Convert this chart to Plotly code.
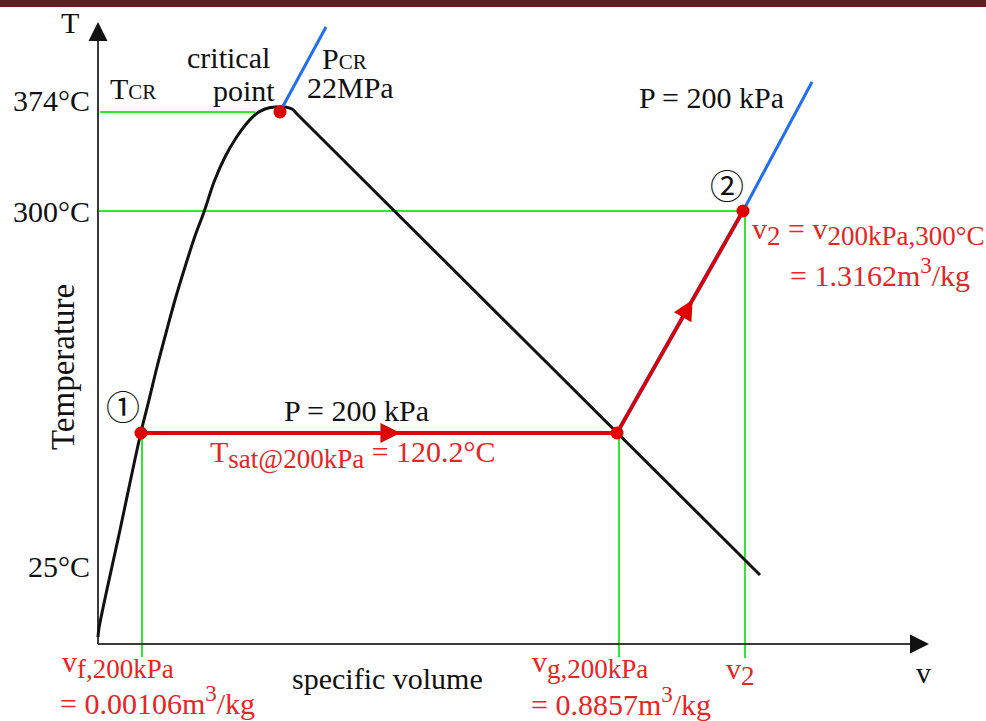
import math
import plotly.graph_objects as go

# ---------------- data (schematic diagram units, v-axis origin = 0,0) ----------------
# saturation dome (liquid limb -> critical point -> vapour limb)
dome_v = [0, 1, 22, 43, 51, 59, 68, 77, 87, 97, 106, 116, 127, 138, 149, 158, 167, 177, 187, 194, 200, 431, 662]
dome_T = [7, 16, 114, 212, 244, 277, 311, 344, 377, 408, 432, 462, 487, 506, 521, 530, 535, 537, 537, 535, 529, 299, 69]

# critical point and critical isobar (22 MPa)
crit_v, crit_T = 182, 532
crit_isobar_v = [184, 228]
crit_isobar_T = [536, 617]

# process 1 -> 2 at P = 200 kPa
state1_v, state1_T = 43, 211          # saturated liquid, vf
satvap_v, satvap_T = 519, 211         # saturated vapour, vg
state2_v, state2_T = 645, 433         # superheated, 300 C
isobar_ext_v = [645, 714]             # continuation of 200 kPa isobar
isobar_ext_T = [433, 562]

# reference temperature levels
T_cr_level = 532
T_300_level = 433
temp_labels = ["374°C", "300°C", "25°C"]
temp_label_T = [544, 433, 78]

# axes extent
T_axis_top = 622
v_axis_end = 831
guide_bottom = -13

RED = "#e00000"
RED_TXT = "#e82424"
BLUE = "#1f6ff0"
GREEN = "#33e633"
BLACK = "#111111"
FONT = "Liberation Serif, Noto Sans CJK JP, serif"

fig = go.Figure()

def line(xs, ys, color, width, shape="linear"):
    fig.add_trace(go.Scatter(x=xs, y=ys, mode="lines", hoverinfo="skip",
                             line=dict(color=color, width=width, shape=shape, smoothing=1)))

# green guide lines
line([2, 157], [T_cr_level, T_cr_level], GREEN, 2)
line([0, state2_v], [T_300_level, T_300_level], GREEN, 2)
line([state1_v + 1, state1_v + 1], [guide_bottom, state1_T], GREEN, 2)
line([satvap_v + 2, satvap_v + 2], [guide_bottom, satvap_T], GREEN, 2)
line([state2_v + 2, state2_v + 2], [guide_bottom - 1, state2_T], GREEN, 2)

# axes
line([0, 0], [0, T_axis_top - 10], "#3a3a3a", 2)
line([0, v_axis_end - 10], [0, 0], "#3a3a3a", 2)
fig.add_trace(go.Scatter(x=[0], y=[T_axis_top], mode="markers", hoverinfo="skip",
                         marker=dict(symbol="arrow-up", size=19, color=BLACK)))
fig.add_trace(go.Scatter(x=[v_axis_end], y=[0], mode="markers", hoverinfo="skip",
                         marker=dict(symbol="arrow-right", size=19, color=BLACK)))

# saturation dome
line(dome_v, dome_T, BLACK, 3, "spline")

# isobars
line(crit_isobar_v, crit_isobar_T, BLUE, 3)
line(isobar_ext_v, isobar_ext_T, BLUE, 3)
line([satvap_v, state2_v], [satvap_T, state2_T], BLUE, 4)
line([state1_v, satvap_v], [state1_T, satvap_T], RED, 4)
line([satvap_v, state2_v], [satvap_T, state2_T], RED, 3.5)

# flow direction arrows (placed along the process segments)
def arrow_on(x0, y0, x1, y1, frac):
    ax = x0 + frac * (x1 - x0)
    ay = y0 + frac * (y1 - y0)
    ang = 90 - math.degrees(math.atan2(y1 - y0, x1 - x0))
    fig.add_trace(go.Scatter(x=[ax], y=[ay], mode="markers", hoverinfo="skip",
                             marker=dict(symbol="arrow-up", size=20, angle=ang, color=RED)))

arrow_on(state1_v, state1_T, satvap_v, satvap_T, 0.545)
arrow_on(satvap_v, satvap_T, state2_v, state2_T, 0.60)

# state points
fig.add_trace(go.Scatter(x=[state1_v, satvap_v, state2_v, crit_v],
                         y=[state1_T, satvap_T, state2_T, crit_T],
                         mode="markers", hoverinfo="skip",
                         marker=dict(size=13, color=RED)))

# ---------------- labels ----------------
def label(text, x, y, color=BLACK, size=30, xanchor="left", angle=0):
    fig.add_annotation(x=x, y=y, xref="x", yref="y", text=text, showarrow=False,
                       xanchor=xanchor, yanchor="middle", textangle=angle,
                       font=dict(family=FONT, size=size, color=color))

SUB = "<sub><span style='font-size:27px'>{}</span></sub>"
SUP3 = "<sup><span style='font-size:23px'>3</span></sup>"

label("T", -28, 622, xanchor="center")
for txt, ty in zip(temp_labels, temp_label_T):
    label(txt, -6, ty, xanchor="right")
label("T<span style='font-size:21px'>CR</span>", 10, 556)
label("critical", 130, 587, xanchor="center")
label("point", 179, 554, xanchor="right")
label("P<span style='font-size:21px'>CR</span>", 222, 586)
label("22MPa", 207, 557)
label("P = 200 kPa", 539, 547)
label("②", 629, 457, size=34, xanchor="center")
label("v" + SUB.format("2") + " = v" + SUB.format("200kPa,300°C"), 652, 413, RED_TXT)
label("= 1.3162m" + SUP3 + "/kg", 690, 372, RED_TXT)
label("①", 25, 236, size=34, xanchor="center")
label("P = 200 kPa", 184, 234)
label("T" + SUB.format("sat@200kPa") + " = 120.2°C", 110, 190, RED_TXT)
label("Temperature", -35, 277, xanchor="center", angle=-90, size=33)
label("v" + SUB.format("f,200kPa"), -38, -20, RED_TXT)
label("= 0.00106m" + SUP3 + "/kg", -40, -56, RED_TXT)
label("specific volume", 192, -34)
label("v" + SUB.format("g,200kPa"), 432, -20, RED_TXT)
label("= 0.8857m" + SUP3 + "/kg", 431, -57, RED_TXT)
label("v" + SUB.format("2"), 642, -27, RED_TXT, xanchor="center")
label("v", 825, -28, xanchor="center")

# top decorative bar
fig.add_shape(type="rect", xref="paper", yref="paper", x0=0, x1=1, y0=1 - 7 / 721, y1=1,
              fillcolor="#5f1f22", line=dict(width=0))

fig.update_layout(
    width=986, height=721,
    margin=dict(l=0, r=0, t=0, b=0),
    paper_bgcolor="white", plot_bgcolor="white",
    showlegend=False,
    xaxis=dict(range=[-98, 888], visible=False, fixedrange=True),
    yaxis=dict(range=[-77, 644], visible=False, fixedrange=True),
)

fig.write_html("out.html",
               config={"displayModeBar": False, "staticPlot": True},
               post_script="document.body.style.margin='0px';document.body.style.overflow='hidden';")
